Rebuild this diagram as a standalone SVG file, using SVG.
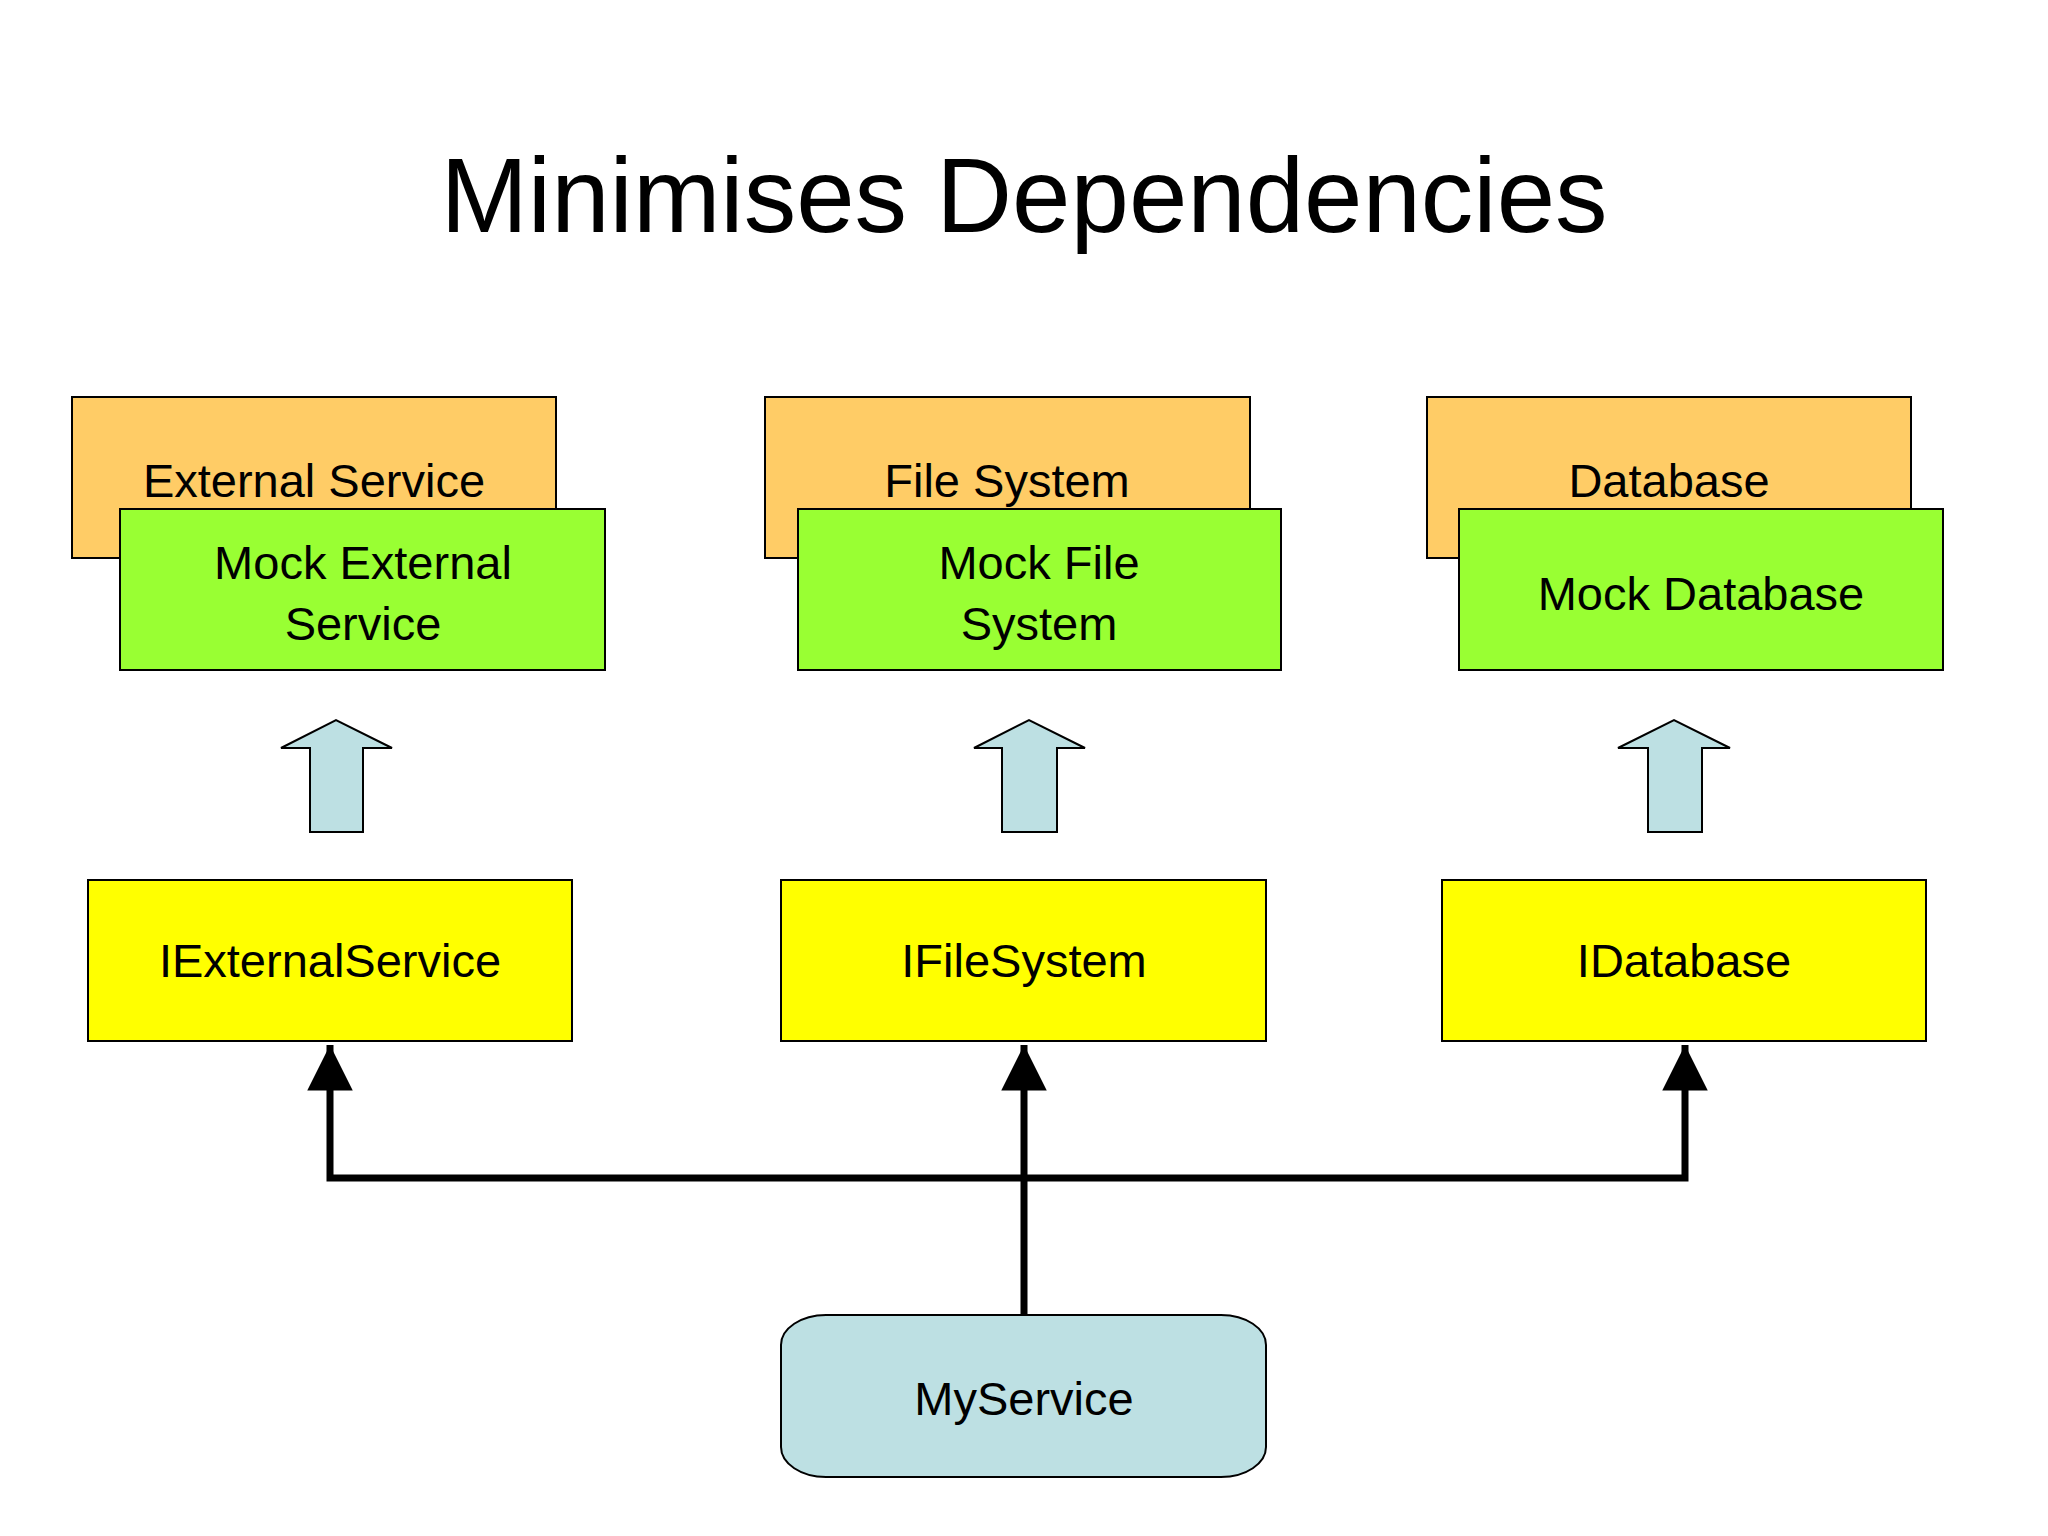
<svg xmlns="http://www.w3.org/2000/svg" width="2048" height="1536" viewBox="0 0 2048 1536">
<style>
text{font-family:"Liberation Sans",Arial,sans-serif;fill:#000;text-anchor:middle}
.t{font-size:47px}
.o{fill:#ffcc66;stroke:#000;stroke-width:2}
.g{fill:#99ff33;stroke:#000;stroke-width:2}
.y{fill:#ffff00;stroke:#000;stroke-width:2}
.b{fill:#bde0e3;stroke:#000;stroke-width:2}
.c{fill:none;stroke:#000;stroke-width:7}
</style>
<defs><marker id="ah" viewBox="0 0 10 10" refX="10" refY="5" markerWidth="6.5" markerHeight="6.5" markerUnits="strokeWidth" orient="auto"><path d="M0,0 L10,5 L0,10 z" fill="#000"/></marker></defs>
<rect width="2048" height="1536" fill="#fff"/>
<text x="1024" y="232" font-size="105">Minimises Dependencies</text>
<g id="external"><rect class="o" x="72" y="397" width="484" height="161"/><text class="t" x="314" y="497">External Service</text></g>
<g id="mockexternal"><rect class="g" x="120" y="509" width="485" height="161"/><text class="t" x="363" y="579">Mock External</text><text class="t" x="363" y="640">Service</text></g>
<g id="filesystem"><rect class="o" x="765" y="397" width="485" height="161"/><text class="t" x="1007" y="497">File System</text></g>
<g id="mockfile"><rect class="g" x="798" y="509" width="483" height="161"/><text class="t" x="1039" y="579">Mock File</text><text class="t" x="1039" y="640">System</text></g>
<g id="database"><rect class="o" x="1427" y="397" width="484" height="161"/><text class="t" x="1669" y="497">Database</text></g>
<g id="mockdb"><rect class="g" x="1459" y="509" width="484" height="161"/><text class="t" x="1701" y="610">Mock Database</text></g>
<g id="blockarrows">
<path class="b" d="M310,832 L310,748 L281,748 L336,720 L392,748 L363,748 L363,832 Z"/>
<path class="b" d="M1002,832 L1002,748 L974,748 L1029,720 L1085,748 L1057,748 L1057,832 Z"/>
<path class="b" d="M1648,832 L1648,748 L1618,748 L1674,720 L1730,748 L1702,748 L1702,832 Z"/>
</g>
<g id="iexternal"><rect class="y" x="88" y="880" width="484" height="161"/><text class="t" x="330" y="977">IExternalService</text></g>
<g id="ifile"><rect class="y" x="781" y="880" width="485" height="161"/><text class="t" x="1024" y="977">IFileSystem</text></g>
<g id="idb"><rect class="y" x="1442" y="880" width="484" height="161"/><text class="t" x="1684" y="977">IDatabase</text></g>
<g id="connectors">
<path class="c" d="M1024,1178 L330,1178 L330,1045" marker-end="url(#ah)"/>
<path class="c" d="M1024,1178 L1685,1178 L1685,1045" marker-end="url(#ah)"/>
<path class="c" d="M1024,1315 L1024,1045" marker-end="url(#ah)"/>
</g>
<g id="myservice"><rect class="b" x="781" y="1315" width="485" height="162" rx="45" ry="30"/><text class="t" x="1024" y="1415">MyService</text></g>
</svg>
